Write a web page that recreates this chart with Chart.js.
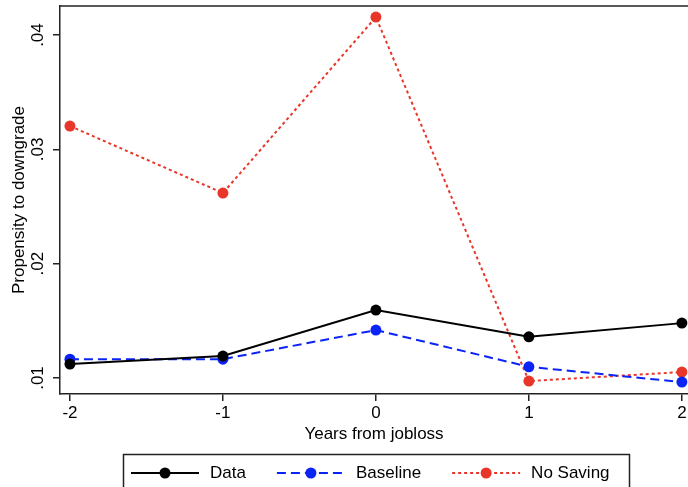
<!DOCTYPE html>
<html>
<head>
<meta charset="utf-8">
<script src="https://cdn.jsdelivr.net/npm/chart.js@4"></script>
<style>
  html, body { margin: 0; padding: 0; background: #fff; }
  #chart { display: block; }
</style>
</head>
<body>
<canvas id="chart" width="688" height="487"></canvas>
<script>
// values
const years = [-2, -1, 0, 1, 2];
const dataValues = [0.01122, 0.01192, 0.01594, 0.0136, 0.0148];
const baselineValues = [0.01165, 0.01165, 0.01419, 0.01098, 0.00964];
const noSavingValues = [0.03204, 0.02618, 0.04157, 0.00973, 0.01052];
const yTickValues = [0.01, 0.02, 0.03, 0.04];
const yTickLabels = [".01", ".02", ".03", ".04"];
const seriesNames = ["Data", "Baseline", "No Saving"];

const FONT = "'Liberation Sans', Arial, Helvetica, sans-serif";
Chart.defaults.font.family = FONT;
Chart.defaults.font.size = 17;
Chart.defaults.color = "#000";

function toPoints(values) {
    return years.map((x, i) => ({ x: x, y: values[i] }));
}

function makeSet(label, values, color, dash) {
    return {
        label: label,
        data: toPoints(values),
        borderColor: color,
        backgroundColor: color,
        borderWidth: 2,
        borderDash: dash,
        pointRadius: 5.5,
        pointHoverRadius: 5.5,
        pointBorderWidth: 0,
        pointBackgroundColor: color,
        tension: 0,
        clip: false
    };
}

// rotated y tick labels, top frame line and the boxed legend
const stataBits = {
    id: "stataBits",
    afterDraw(chart) {
        const ctx = chart.ctx;
        const area = chart.chartArea;
        const yScale = chart.scales.y;

        ctx.save();
        ctx.strokeStyle = "#222";
        ctx.lineWidth = 1.5;
        ctx.beginPath();
        ctx.moveTo(area.left, area.top);
        ctx.lineTo(chart.width, area.top);
        ctx.stroke();

        ctx.fillStyle = "#000";
        ctx.font = "17px " + FONT;
        ctx.textAlign = "center";
        ctx.textBaseline = "middle";
        yTickValues.forEach((v, i) => {
            const py = yScale.getPixelForValue(v);
            ctx.save();
            ctx.translate(38, py);
            ctx.rotate(-Math.PI / 2);
            ctx.fillText(yTickLabels[i], 0, 0);
            ctx.restore();
        });

        // legend
        ctx.lineWidth = 1.5;
        ctx.strokeStyle = "#222";
        ctx.strokeRect(123.5, 454.5, 506, 40);
        const cy = 473;
        let x = 131;
        ctx.textAlign = "left";
        chart.data.datasets.forEach(ds => {
            ctx.save();
            ctx.strokeStyle = ds.borderColor;
            ctx.lineWidth = 2;
            ctx.setLineDash(ds.borderDash || []);
            ctx.beginPath();
            ctx.moveTo(x, cy);
            ctx.lineTo(x + 68, cy);
            ctx.stroke();
            ctx.setLineDash([]);
            ctx.fillStyle = ds.borderColor;
            ctx.beginPath();
            ctx.arc(x + 34, cy, 5.5, 0, Math.PI * 2);
            ctx.fill();
            ctx.restore();
            ctx.fillText(ds.label, x + 79, cy);
            x += 79 + ctx.measureText(ds.label).width + 31;
        });
        ctx.restore();
    }
};

new Chart(document.getElementById("chart"), {
    type: "line",
    data: {
        datasets: [
            makeSet(seriesNames[0], dataValues, "#000000", []),
            makeSet(seriesNames[1], baselineValues, "#0a24f5", [9, 5]),
            makeSet(seriesNames[2], noSavingValues, "#e8362a", [3, 3])
        ]
    },
    options: {
        responsive: false,
        animation: false,
        devicePixelRatio: 1,
        layout: { autoPadding: false, padding: { top: 6, right: 0, bottom: 0, left: 0 } },
        plugins: {
            legend: { display: false },
            tooltip: { enabled: false }
        },
        scales: {
            x: {
                type: "linear",
                position: "bottom",
                min: -2.065,
                max: 2.04,
                afterBuildTicks: s => { s.ticks = years.map(v => ({ value: v })); },
                afterFit: s => {
                    s.height = 93;
                    s.paddingLeft = 0;
                    s.paddingRight = 0;
                },
                ticks: {
                    padding: 2,
                    color: "#000",
                    font: { size: 17 },
                    callback: v => String(v)
                },
                grid: {
                    drawOnChartArea: false,
                    drawTicks: true,
                    tickLength: 7,
                    color: "#222",
                    lineWidth: 1.5
                },
                border: { color: "#222", width: 1.5 },
                title: {
                    display: true,
                    text: "Years from jobloss",
                    color: "#000",
                    font: { size: 17 },
                    padding: { top: 0, bottom: 42.8 }
                }
            },
            y: {
                type: "linear",
                min: 0.0086,
                max: 0.04254,
                afterBuildTicks: s => { s.ticks = yTickValues.map(v => ({ value: v })); },
                afterFit: s => { s.width = 60; },
                ticks: { display: false },
                grid: {
                    drawOnChartArea: false,
                    drawTicks: true,
                    tickLength: 7,
                    color: "#222",
                    lineWidth: 1.5
                },
                border: { color: "#222", width: 1.5 },
                title: {
                    display: true,
                    text: "Propensity to downgrade",
                    color: "#000",
                    font: { size: 17 },
                    padding: { top: 8.8, bottom: 0 }
                }
            }
        }
    },
    plugins: [stataBits]
});
</script>
</body>
</html>
